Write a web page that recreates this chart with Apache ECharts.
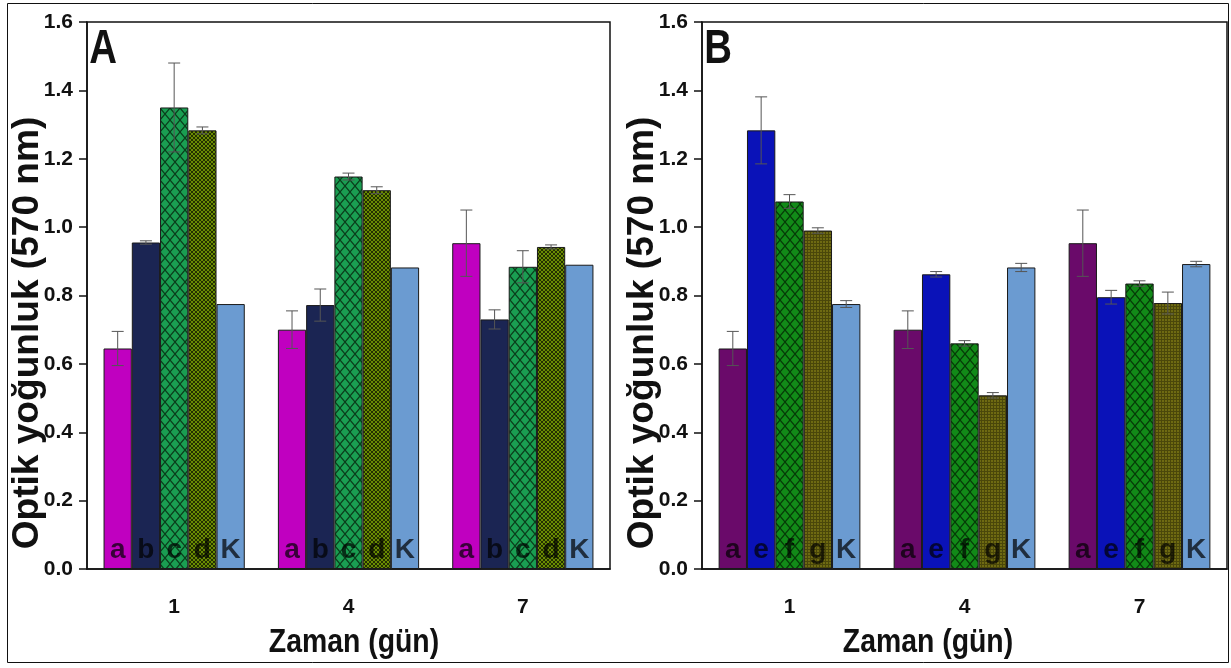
<!DOCTYPE html>
<html>
<head>
<meta charset="utf-8">
<script src="https://cdn.jsdelivr.net/npm/echarts@6/dist/echarts.min.js"></script>
<style>
html, body { margin: 0; padding: 0; background: #fff; }
#main { width: 1231px; height: 668px; }
</style>
</head>
<body>
<div id="main"></div>
<script>
// gün
var days = ['1', '4', '7'];
var lettersA = ['a', 'b', 'c', 'd', 'K'];
var lettersB = ['a', 'e', 'f', 'g', 'K'];

// one row per bar letter, one value per day
var valuesA = [
	[0.645, 0.700, 0.953],
	[0.955, 0.772, 0.730],
	[1.350, 1.148, 0.884],
	[1.283, 1.108, 0.942],
	[0.775, 0.882, 0.890]
];
var errorsA = [
	[0.050, 0.055, 0.097],
	[0.005, 0.047, 0.028],
	[0.130, 0.010, 0.047],
	[0.010, 0.010, 0.006],
	[0, 0, 0]
];
var valuesB = [
	[0.645, 0.700, 0.953],
	[1.283, 0.862, 0.795],
	[1.075, 0.660, 0.835],
	[0.990, 0.508, 0.778],
	[0.775, 0.882, 0.892]
];
var errorsB = [
	[0.050, 0.055, 0.097],
	[0.098, 0.008, 0.020],
	[0.020, 0.008, 0.008],
	[0.008, 0.008, 0.032],
	[0.010, 0.012, 0.008]
];

var narrow = "'Liberation Sans Narrow', 'Arial Narrow', 'Liberation Sans', Arial, sans-serif";
var wide = "'Liberation Sans', Arial, sans-serif";
var catGap = 0.19;

function hatch(bg, line, w, h, lw) {
	var c = document.createElement('canvas');
	c.width = w; c.height = h;
	var g = c.getContext('2d');
	g.fillStyle = bg;
	g.fillRect(0, 0, w, h);
	g.strokeStyle = line;
	g.lineWidth = lw;
	g.beginPath();
	g.moveTo(0, 0); g.lineTo(w, h);
	g.moveTo(w, 0); g.lineTo(0, h);
	g.stroke();
	return { image: c, repeat: 'repeat' };
}
function mesh(bg, line, s) {
	var c = document.createElement('canvas');
	c.width = s; c.height = s;
	var g = c.getContext('2d');
	g.fillStyle = bg;
	g.fillRect(0, 0, s, s);
	g.fillStyle = line;
	g.fillRect(0, 0, s, 1);
	g.fillRect(0, 0, 1, s);
	return { image: c, repeat: 'repeat' };
}

var colorsA = ['#c000c0', '#1b2553', hatch('#1a9e52', '#0b3d1c', 10, 12, 1.2), hatch('#6a8c02', '#243000', 4, 4, 1), '#6b9bd1'];
var colorsB = ['#6a0a6a', '#0a12b8', hatch('#128a18', '#063a08', 10, 12, 1.2), mesh('#6e6a12', '#4a470a', 3), '#6b9bd1'];

function barSeries(letters, values, colors, idx) {
	return letters.map(function (l, k) {
		return {
			name: l,
			type: 'bar',
			xAxisIndex: idx,
			yAxisIndex: idx,
			data: values[k],
			barGap: '0%',
			barCategoryGap: (catGap * 100) + '%',
			itemStyle: { color: colors[k], borderColor: '#1a1a1a', borderWidth: 1 },
			label: {
				show: true,
				position: 'insideBottom',
				distance: 5,
				formatter: l,
				fontFamily: narrow,
				fontWeight: 'bold',
				fontSize: 28,
				color: 'rgba(0,0,0,0.7)'
			},
			silent: true
		};
	});
}

function errorSeries(values, errors, idx) {
	var data = [];
	values.forEach(function (row, k) {
		row.forEach(function (v, c) {
			if (errors[k][c] > 0) data.push([c, k, v, errors[k][c]]);
		});
	});
	return {
		type: 'custom',
		xAxisIndex: idx,
		yAxisIndex: idx,
		data: data,
		encode: { x: 0, y: 2 },
		z: 10,
		silent: true,
		renderItem: function (params, api) {
			var c = api.value(0), k = api.value(1), v = api.value(2), e = api.value(3);
			var band = api.size([1, 0])[0];
			var bw = band * (1 - catGap) / 5;
			var x = api.coord([c, v])[0] - band * (1 - catGap) / 2 + (k + 0.5) * bw;
			var yt = api.coord([c, v + e])[1];
			var yb = api.coord([c, v - e])[1];
			var st = { stroke: '#555', lineWidth: 1 };
			return {
				type: 'group',
				children: [
					{ type: 'line', shape: { x1: x, y1: yt, x2: x, y2: yb }, style: st },
					{ type: 'line', shape: { x1: x - 6, y1: yt, x2: x + 6, y2: yt }, style: st },
					{ type: 'line', shape: { x1: x - 6, y1: yb, x2: x + 6, y2: yb }, style: st }
				]
			};
		}
	};
}

function xAxis(idx) {
	return {
		type: 'category',
		gridIndex: idx,
		data: days,
		axisLine: { lineStyle: { color: '#111', width: 1.5 } },
		axisTick: { alignWithLabel: true, length: 8, lineStyle: { color: '#111', width: 1.5 } },
		axisLabel: { margin: 28, color: '#111', fontFamily: narrow, fontWeight: 'bold', fontSize: 21 },
		splitLine: { show: false }
	};
}
function yAxis(idx) {
	return {
		type: 'value',
		gridIndex: idx,
		min: 0,
		max: 1.6,
		interval: 0.2,
		axisLine: { show: true, lineStyle: { color: '#111', width: 1.5 } },
		axisTick: { show: true, length: 8, lineStyle: { color: '#111', width: 1.5 } },
		axisLabel: {
			margin: 14,
			color: '#111', fontFamily: narrow, fontWeight: 'bold', fontSize: 21,
			formatter: function (v) { return v.toFixed(1); }
		},
		splitLine: { show: false }
	};
}

function textEl(txt, x, y, size, font, rot, sx) {
	return {
		type: 'text', x: x, y: y, rotation: rot || 0, scaleX: sx || 1, silent: true,
		style: {
			text: txt, fill: '#111', font: 'bold ' + size + 'px ' + font,
			align: 'center', verticalAlign: 'middle'
		}
	};
}

var chart = echarts.init(document.getElementById('main'));
var option = {
	animation: false,
	backgroundColor: '#fff',
	grid: [
		{ left: 87, top: 22, width: 523, height: 547, show: true, borderColor: '#111', borderWidth: 1.5, backgroundColor: 'transparent' },
		{ left: 702, top: 22, width: 525, height: 547, show: true, borderColor: '#111', borderWidth: 1.5, backgroundColor: 'transparent' }
	],
	xAxis: [xAxis(0), xAxis(1)],
	yAxis: [yAxis(0), yAxis(1)],
	series: []
		.concat(barSeries(lettersA, valuesA, colorsA, 0))
		.concat(barSeries(lettersB, valuesB, colorsB, 1))
		.concat([errorSeries(valuesA, errorsA, 0), errorSeries(valuesB, errorsB, 1)]),
	graphic: [
		{ type: 'rect', silent: true, shape: { x: 7.5, y: 3.5, width: 1221, height: 659 }, style: { fill: null, stroke: '#111', lineWidth: 1 } },
		textEl('A', 103, 50, 48, narrow, 0, 0.8),
		textEl('B', 718, 50, 48, narrow, 0, 0.8),
		textEl('Optik yoğunluk (570 nm)', 28, 333, 36, wide, Math.PI / 2, 1.03),
		textEl('Optik yoğunluk (570 nm)', 643, 333, 36, wide, Math.PI / 2, 1.03),
		textEl('Zaman (gün)', 354, 643, 33, narrow, 0, 0.86),
		textEl('Zaman (gün)', 928, 643, 33, narrow, 0, 0.86)
	]
};
chart.setOption(option);
</script>
</body>
</html>
